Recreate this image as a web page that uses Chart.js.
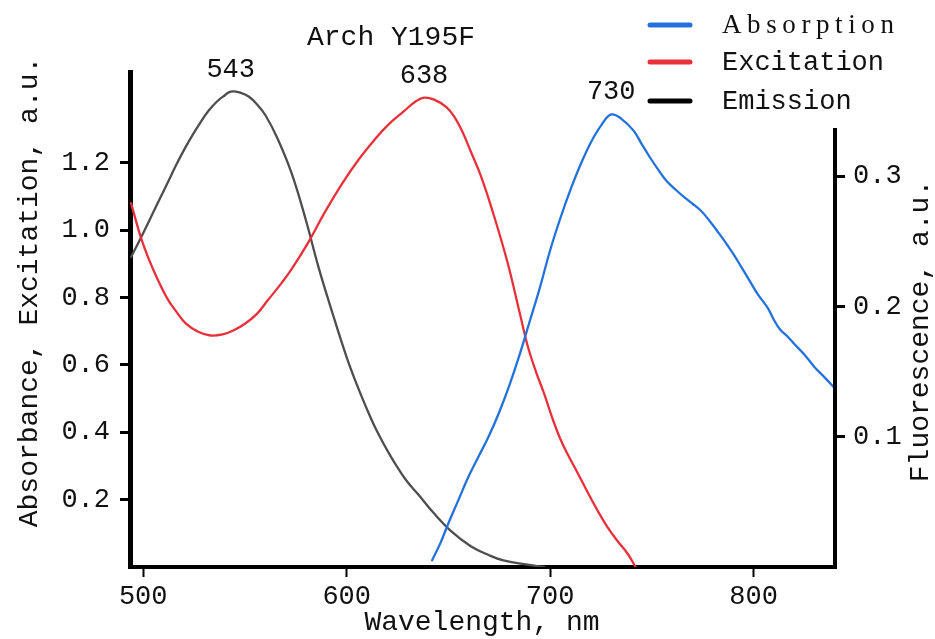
<!DOCTYPE html>
<html>
<head>
<meta charset="utf-8">
<script src="https://cdn.jsdelivr.net/npm/chart.js@4.4.1/dist/chart.umd.min.js"></script>
<style>
  html, body { margin: 0; padding: 0; background: #ffffff; }
  canvas { display: block; }
</style>
</head>
<body>
<canvas id="spectra" width="935" height="639"></canvas>
<script>
// Arch Y195F spectra: wavelengths (nm) and intensities
const absorptionWl = [642, 646, 650, 655, 660, 665, 670, 675, 680, 685, 690, 695, 700, 705, 710, 715, 720, 725, 730, 735, 741, 745, 749, 753, 757, 762, 766, 770, 774, 778, 782, 786, 790, 794, 798, 802, 807, 810, 813, 817, 820, 825, 830, 835, 840];
const absorptionVal = [0.02, 0.07, 0.13, 0.2, 0.27, 0.33, 0.39, 0.46, 0.54, 0.63, 0.73, 0.83, 0.94, 1.035, 1.12, 1.195, 1.26, 1.31, 1.343, 1.33, 1.295, 1.255, 1.216, 1.18, 1.147, 1.118, 1.097, 1.078, 1.058, 1.03, 0.998, 0.965, 0.929, 0.89, 0.85, 0.81, 0.768, 0.733, 0.705, 0.682, 0.662, 0.63, 0.593, 0.562, 0.53];

const excitationWl = [494, 499, 503, 507, 512, 516, 521, 527, 533, 539, 544, 550, 556, 561, 567, 573, 581, 589, 598, 606, 614, 620, 628, 634, 638, 643, 649, 653, 657, 661, 666, 672, 679, 685, 689, 693, 697, 701, 705, 709, 713, 719, 724, 728, 733, 738, 742];
const excitationVal = [1.08, 0.975, 0.91, 0.855, 0.795, 0.76, 0.722, 0.698, 0.687, 0.69, 0.701, 0.722, 0.752, 0.79, 0.835, 0.885, 0.962, 1.05, 1.14, 1.21, 1.27, 1.31, 1.352, 1.382, 1.393, 1.387, 1.365, 1.335, 1.29, 1.233, 1.16, 1.05, 0.905, 0.755, 0.655, 0.58, 0.515, 0.443, 0.38, 0.33, 0.285, 0.215, 0.16, 0.12, 0.078, 0.04, 0.0];

const emissionWl = [494, 498, 503, 507, 512, 516, 520, 524, 528, 532, 536, 540, 543, 548, 552, 556, 560, 566, 573, 580, 586, 593, 600, 605, 610, 614, 618, 622, 626, 630, 635, 643, 651, 661, 670, 677, 688, 697];
const emissionVal = [0.238, 0.250, 0.266, 0.279, 0.295, 0.308, 0.320, 0.331, 0.341, 0.350, 0.357, 0.362, 0.365, 0.364, 0.361, 0.355, 0.347, 0.329, 0.302, 0.266, 0.231, 0.195, 0.161, 0.140, 0.121, 0.107, 0.095, 0.084, 0.074, 0.065, 0.056, 0.041, 0.028, 0.016, 0.009, 0.005, 0.002, 0.0];

// Axis ticks
const wavelengthTicks = [500, 600, 700, 800];
const leftTicks = [0.2, 0.4, 0.6, 0.8, 1.0, 1.2];
const rightTicks = [0.1, 0.2, 0.3];

// Peak wavelengths marked above each curve
const peakLabels = ['730', '638', '543'];

const seriesNames = ['Absorption', 'Excitation', 'Emission'];

const MONO = '"Liberation Mono", "DejaVu Sans Mono", monospace';
const SERIF = '"Liberation Serif", "DejaVu Serif", serif';
const BLUE = '#2372dc';
const RED = '#e8303a';
const GREY = '#4e4e4e';

const W = 935, H = 639;
const AREA = { left: 130, right: 835, top: 72, bottom: 567 };

function toPoints(xs, ys) {
  return xs.map((x, i) => ({ x: x, y: ys[i] }));
}

const fixedTicks = (values) => (scale) => {
  scale.ticks = values.map(v => ({ value: v }));
};

// Text, legend, peak labels and the short right-hand axis line
const decorations = {
  id: 'decorations',
  afterDraw(chart) {
    const ctx = chart.ctx;
    const xs = chart.scales.x;
    ctx.save();

    // right axis line (starts below the legend)
    ctx.strokeStyle = '#000';
    ctx.lineWidth = 4;
    ctx.beginPath();
    ctx.moveTo(chart.chartArea.right, 128);
    ctx.lineTo(chart.chartArea.right, chart.chartArea.bottom + 2);
    ctx.stroke();

    ctx.fillStyle = '#111';
    ctx.font = '28px ' + MONO;
    ctx.textAlign = 'center';
    ctx.textBaseline = 'middle';
    ctx.fillText('Arch Y195F', 391, 38);

    // peak labels
    ctx.font = '27px ' + MONO;
    ctx.textBaseline = 'alphabetic';
    chart.data.datasets.forEach((ds, i) => {
      let best = ds.data[0];
      ds.data.forEach(p => { if (p.y > best.y) best = p; });
      const scale = chart.scales[ds.yAxisID];
      const px = xs.getPixelForValue(best.x);
      const py = scale.getPixelForValue(best.y);
      ctx.fillText(peakLabels[i], px, py - 15);
    });

    // axis titles
    ctx.font = '28px ' + MONO;
    ctx.textBaseline = 'middle';
    ctx.fillText('Wavelength, nm', 482, 623);

    ctx.save();
    ctx.translate(30, 292);
    ctx.rotate(-Math.PI / 2);
    ctx.fillText('Absorbance, Excitation, a.u.', 0, 0);
    ctx.restore();

    ctx.save();
    ctx.translate(921, 331);
    ctx.rotate(-Math.PI / 2);
    ctx.fillText('Fluorescence, a.u.', 0, 0);
    ctx.restore();

    // legend
    const legendY = [25, 62, 101];
    const legendColors = [BLUE, RED, '#000'];
    ctx.lineCap = 'round';
    ctx.lineWidth = 5;
    seriesNames.forEach((name, i) => {
      ctx.strokeStyle = legendColors[i];
      ctx.beginPath();
      ctx.moveTo(650, legendY[i]);
      ctx.lineTo(690, legendY[i]);
      ctx.stroke();
      ctx.textAlign = 'left';
      ctx.textBaseline = 'middle';
      if (i === 0) {
        ctx.font = '27px ' + SERIF;
        ctx.letterSpacing = '5.6px';
      } else {
        ctx.font = '27px ' + MONO;
        ctx.letterSpacing = '0px';
      }
      ctx.fillText(name, 722, legendY[i] + 1);
    });
    ctx.letterSpacing = '0px';
    ctx.restore();
  }
};

new Chart(document.getElementById('spectra'), {
  type: 'line',
  data: {
    datasets: [
      { label: seriesNames[0], data: toPoints(absorptionWl, absorptionVal), yAxisID: 'y', borderColor: BLUE, borderWidth: 2.3 },
      { label: seriesNames[1], data: toPoints(excitationWl, excitationVal), yAxisID: 'y', borderColor: RED, borderWidth: 2.3 },
      { label: seriesNames[2], data: toPoints(emissionWl, emissionVal), yAxisID: 'y1', borderColor: GREY, borderWidth: 2.3 }
    ]
  },
  options: {
    responsive: false,
    animation: false,
    events: [],
    layout: { padding: { top: AREA.top, left: 0, right: 0, bottom: 0 } },
    elements: {
      point: { radius: 0 },
      line: { tension: 0.4, fill: false, borderCapStyle: 'round', borderJoinStyle: 'round' }
    },
    plugins: { legend: { display: false }, tooltip: { enabled: false } },
    scales: {
      x: {
        type: 'linear',
        min: 493.5,
        max: 840,
        afterBuildTicks: fixedTicks(wavelengthTicks),
        afterFit: (s) => { s.height = H - AREA.bottom; },
        ticks: { font: { family: MONO, size: 27 }, color: '#111', padding: 4, maxRotation: 0 },
        grid: { drawOnChartArea: false, drawTicks: true, tickLength: 10, tickWidth: 2, tickColor: '#000' },
        border: { display: true, width: 4, color: '#000' }
      },
      y: {
        position: 'left',
        min: 0,
        max: 1.469,
        afterBuildTicks: fixedTicks(leftTicks),
        afterFit: (s) => { s.width = AREA.left; },
        ticks: { font: { family: MONO, size: 27 }, color: '#111', padding: 10, callback: (v) => v.toFixed(1) },
        grid: { drawOnChartArea: false, drawTicks: true, tickLength: 10, tickWidth: 3, tickColor: '#000' },
        border: { display: true, width: 5, color: '#000' }
      },
      y1: {
        position: 'right',
        min: 0,
        max: 0.38,
        afterBuildTicks: fixedTicks(rightTicks),
        afterFit: (s) => { s.width = W - AREA.right; },
        ticks: { font: { family: MONO, size: 27 }, color: '#111', padding: 8, callback: (v) => v.toFixed(1) },
        grid: { drawOnChartArea: false, drawTicks: true, tickLength: 10, tickWidth: 3, tickColor: '#000' },
        border: { display: false }
      }
    }
  },
  plugins: [decorations]
});
</script>
</body>
</html>
